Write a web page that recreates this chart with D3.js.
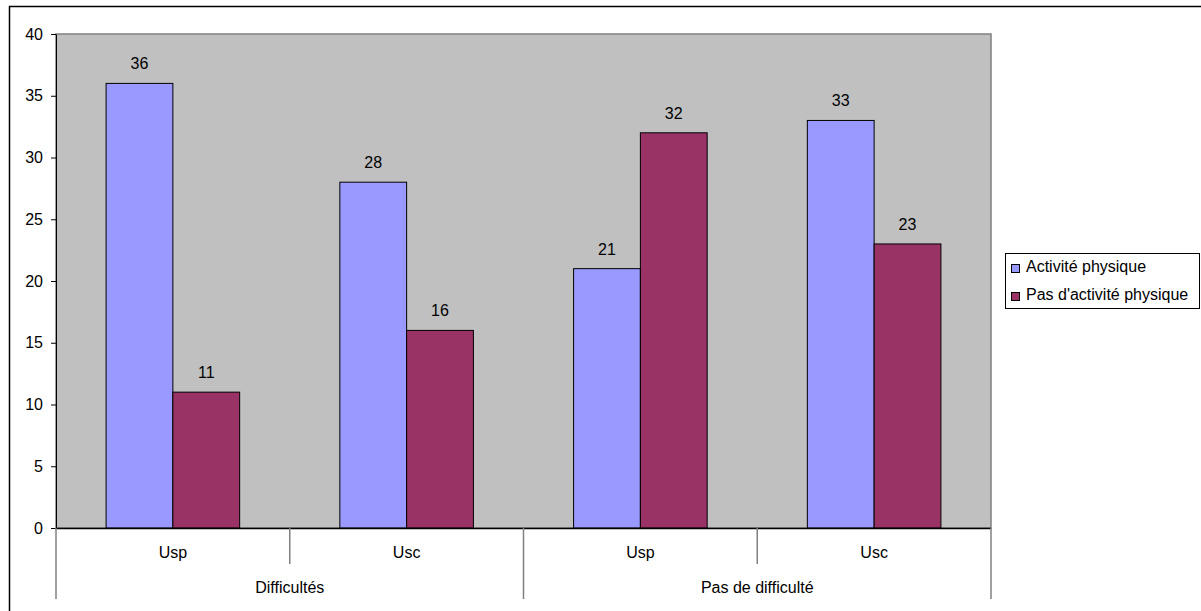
<!DOCTYPE html>
<html><head><meta charset="utf-8">
<script src="https://cdn.jsdelivr.net/npm/d3@7"></script>
<style>body{margin:0;background:#fff}svg{display:block;font-family:"Liberation Sans",Arial,sans-serif}</style>
</head><body><svg id="c" width="1201" height="611"></svg>
<script>
const groups = ["Difficultés", "Pas de difficulté"];
const subCategories = ["Usp", "Usc", "Usp", "Usc"];
const categoryGroup = [0, 0, 1, 1];
const seriesNames = ["Activité physique", "Pas d'activité physique"];
const seriesColors = ["#9999FF", "#993366"];
const activite = [36, 28, 21, 33];
const pasActivite = [11, 16, 32, 23];
const yTicks = [0, 5, 10, 15, 20, 25, 30, 35, 40];

const FS = 16;
const svg = d3.select("#c");
const L = 56, R = 991, T = 34, B = 528;

// outer frame
svg.append("path").attr("d", `M9.5,611 V6.5 H1201`).attr("fill","none").attr("stroke","#000").attr("stroke-width",1.5);

const x = d3.scaleBand().domain(d3.range(4)).range([L, R]).paddingInner(0).paddingOuter(0);
const y = d3.scaleLinear().domain([0, 40]).range([B, T]);
const bw = x.bandwidth() / 3.5;
const xs = d3.scaleBand().domain([0,1]).range([0, 2*bw]);

svg.append("rect").attr("x", L).attr("y", T).attr("width", R-L).attr("height", B-T)
  .attr("fill", "#C0C0C0").attr("stroke", "#808080").attr("stroke-width", 1.5);

const series = [activite, pasActivite];
series.forEach((vals, si) => {
  const g = svg.append("g");
  g.selectAll("rect").data(vals).join("rect")
    .attr("x", (d,i) => x(i) + x.bandwidth()/2 - bw + xs(si))
    .attr("y", d => y(d)).attr("width", bw).attr("height", d => y(0) - y(d))
    .attr("fill", seriesColors[si]).attr("stroke", "#000").attr("stroke-width", 1);
  g.selectAll("text").data(vals).join("text")
    .attr("x", (d,i) => x(i) + x.bandwidth()/2 - bw + xs(si) + bw/2)
    .attr("y", d => y(d) - 14).attr("text-anchor","middle").attr("font-size", FS).attr("fill","#000")
    .text(d => d);
});

// y axis
const ya = svg.append("g").attr("transform", `translate(${L},0)`)
  .call(d3.axisLeft(y).tickValues(yTicks).tickSize(5).tickSizeOuter(0).tickPadding(8));
ya.select(".domain").attr("stroke", "#000");
ya.selectAll(".tick line").attr("stroke", "#000");
ya.selectAll("text").attr("font-size", FS).attr("fill", "#000").attr("font-family", "Liberation Sans, Arial, sans-serif");

// x axis line
svg.append("line").attr("x1", L).attr("x2", R).attr("y1", B+0.5).attr("y2", B+0.5).attr("stroke", "#000").attr("stroke-width", 1.5);

// separators
const seps = [L, x(1), x(2), x(3), R];
seps.forEach((sx, i) => {
  const long = (i === 0 || i === 2 || i === 4);
  svg.append("line").attr("x1", sx).attr("x2", sx).attr("y1", B).attr("y2", long ? 599 : 564)
    .attr("stroke", "#808080").attr("stroke-width", 1.5);
});

svg.selectAll("text.sub").data(subCategories).join("text").attr("class","sub")
  .attr("x", (d,i) => x(i) + x.bandwidth()/2).attr("y", 558).attr("text-anchor","middle")
  .attr("font-size", FS).text(d => d);

svg.selectAll("text.grp").data(groups).join("text").attr("class","grp")
  .attr("x", (d,gi) => { const idx = d3.range(4).filter(i => categoryGroup[i] === gi); return (x(idx[0]) + x(idx[idx.length-1]) + x.bandwidth())/2; })
  .attr("y", 593).attr("text-anchor","middle").attr("font-size", FS).text(d => d);

// legend
const lg = svg.append("g");
lg.append("rect").attr("x", 1005.5).attr("y", 253.5).attr("width", 194).attr("height", 55)
  .attr("fill", "#fff").attr("stroke", "#000").attr("stroke-width", 1);
seriesNames.forEach((n, i) => {
  lg.append("rect").attr("x", 1011.5).attr("y", 264.5 + i*28).attr("width", 8).attr("height", 8)
    .attr("fill", seriesColors[i]).attr("stroke", "#000").attr("stroke-width", 1);
  lg.append("text").attr("x", 1026).attr("y", 272 + i*28).attr("font-size", FS).text(n);
});
</script></body></html>
